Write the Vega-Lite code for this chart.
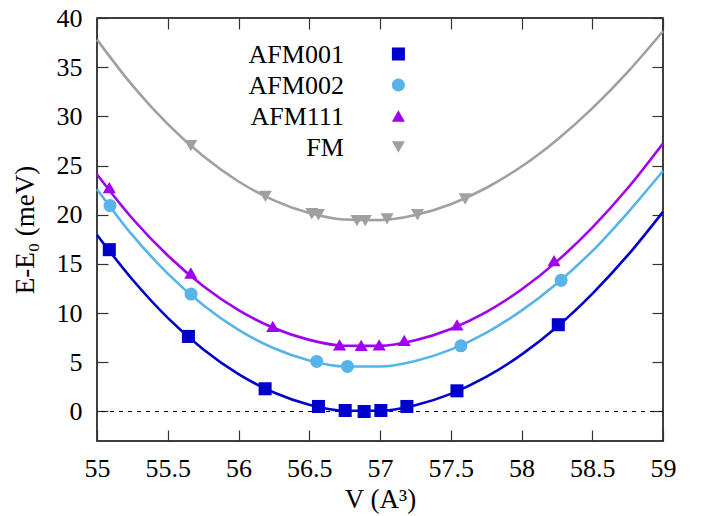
{
  "$schema": "https://vega.github.io/schema/vega-lite/v6.json",
  "width": 566,
  "height": 423,
  "autosize": {"type": "none"},
  "padding": {"left": 97, "top": 18, "right": 42, "bottom": 75},
  "background": "white",
  "config": {
    "view": {"stroke": "black", "strokeWidth": 1.5},
    "font": "Liberation Serif",
    "axis": {"labelFont": "Liberation Serif", "labelFontSize": 26, "labelColor": "black", "titleFont": "Liberation Serif", "titleFontSize": 27, "titleFontWeight": "normal", "titleColor": "black", "grid": false, "domain": false, "tickColor": "#333333", "tickWidth": 1.2}
  },
  "datasets": {
    "pts": [
      {"series": "AFM001", "V": 55.087, "E": 16.45},
      {"series": "AFM001", "V": 55.646, "E": 7.63},
      {"series": "AFM001", "V": 56.188, "E": 2.31},
      {"series": "AFM001", "V": 56.565, "E": 0.51},
      {"series": "AFM001", "V": 56.754, "E": 0.1},
      {"series": "AFM001", "V": 56.888, "E": 0.0},
      {"series": "AFM001", "V": 57.006, "E": 0.1},
      {"series": "AFM001", "V": 57.19, "E": 0.51},
      {"series": "AFM001", "V": 57.544, "E": 2.1},
      {"series": "AFM001", "V": 58.26, "E": 8.82},
      {"series": "AFM002", "V": 55.092, "E": 20.93},
      {"series": "AFM002", "V": 55.665, "E": 11.94},
      {"series": "AFM002", "V": 56.553, "E": 5.09},
      {"series": "AFM002", "V": 56.77, "E": 4.58},
      {"series": "AFM002", "V": 57.572, "E": 6.68},
      {"series": "AFM002", "V": 58.28, "E": 13.33},
      {"series": "AFM111", "V": 55.087, "E": 22.76},
      {"series": "AFM111", "V": 55.663, "E": 14.08},
      {"series": "AFM111", "V": 56.242, "E": 8.65},
      {"series": "AFM111", "V": 56.714, "E": 6.78},
      {"series": "AFM111", "V": 56.867, "E": 6.72},
      {"series": "AFM111", "V": 56.994, "E": 6.78},
      {"series": "AFM111", "V": 57.171, "E": 7.22},
      {"series": "AFM111", "V": 57.544, "E": 8.8},
      {"series": "AFM111", "V": 58.23, "E": 15.33},
      {"series": "FM", "V": 55.663, "E": 27.03},
      {"series": "FM", "V": 56.19, "E": 21.87},
      {"series": "FM", "V": 56.518, "E": 20.1},
      {"series": "FM", "V": 56.565, "E": 20.0},
      {"series": "FM", "V": 56.837, "E": 19.4},
      {"series": "FM", "V": 56.896, "E": 19.4},
      {"series": "FM", "V": 57.05, "E": 19.57},
      {"series": "FM", "V": 57.265, "E": 20.0},
      {"series": "FM", "V": 57.602, "E": 21.6}
    ],
    "fit": [
      {"series": "AFM001", "V": 55.0, "E": 17.95},
      {"series": "AFM001", "V": 55.25, "E": 13.42},
      {"series": "AFM001", "V": 55.5, "E": 9.52},
      {"series": "AFM001", "V": 55.75, "E": 6.32},
      {"series": "AFM001", "V": 56.0, "E": 3.79},
      {"series": "AFM001", "V": 56.25, "E": 1.93},
      {"series": "AFM001", "V": 56.5, "E": 0.69},
      {"series": "AFM001", "V": 56.75, "E": 0.08},
      {"series": "AFM001", "V": 57.0, "E": 0.07},
      {"series": "AFM001", "V": 57.25, "E": 0.64},
      {"series": "AFM001", "V": 57.5, "E": 1.79},
      {"series": "AFM001", "V": 57.75, "E": 3.51},
      {"series": "AFM001", "V": 58.0, "E": 5.78},
      {"series": "AFM001", "V": 58.25, "E": 8.59},
      {"series": "AFM001", "V": 58.5, "E": 11.96},
      {"series": "AFM001", "V": 58.75, "E": 15.86},
      {"series": "AFM001", "V": 59.0, "E": 20.3},
      {"series": "AFM002", "V": 55.0, "E": 22.6},
      {"series": "AFM002", "V": 55.25, "E": 17.92},
      {"series": "AFM002", "V": 55.5, "E": 14.02},
      {"series": "AFM002", "V": 55.75, "E": 10.82},
      {"series": "AFM002", "V": 56.0, "E": 8.29},
      {"series": "AFM002", "V": 56.25, "E": 6.43},
      {"series": "AFM002", "V": 56.5, "E": 5.19},
      {"series": "AFM002", "V": 56.75, "E": 4.58},
      {"series": "AFM002", "V": 57.0, "E": 4.57},
      {"series": "AFM002", "V": 57.25, "E": 5.14},
      {"series": "AFM002", "V": 57.5, "E": 6.29},
      {"series": "AFM002", "V": 57.75, "E": 8.0},
      {"series": "AFM002", "V": 58.0, "E": 10.25},
      {"series": "AFM002", "V": 58.25, "E": 13.02},
      {"series": "AFM002", "V": 58.5, "E": 16.3},
      {"series": "AFM002", "V": 58.75, "E": 20.2},
      {"series": "AFM002", "V": 59.0, "E": 24.45},
      {"series": "AFM111", "V": 55.0, "E": 24.1},
      {"series": "AFM111", "V": 55.25, "E": 19.62},
      {"series": "AFM111", "V": 55.5, "E": 15.86},
      {"series": "AFM111", "V": 55.75, "E": 12.76},
      {"series": "AFM111", "V": 56.0, "E": 10.31},
      {"series": "AFM111", "V": 56.25, "E": 8.49},
      {"series": "AFM111", "V": 56.5, "E": 7.28},
      {"series": "AFM111", "V": 56.75, "E": 6.68},
      {"series": "AFM111", "V": 57.0, "E": 6.67},
      {"series": "AFM111", "V": 57.25, "E": 7.24},
      {"series": "AFM111", "V": 57.5, "E": 8.39},
      {"series": "AFM111", "V": 57.75, "E": 10.11},
      {"series": "AFM111", "V": 58.0, "E": 12.4},
      {"series": "AFM111", "V": 58.25, "E": 15.26},
      {"series": "AFM111", "V": 58.5, "E": 18.69},
      {"series": "AFM111", "V": 58.75, "E": 22.69},
      {"series": "AFM111", "V": 59.0, "E": 27.25},
      {"series": "FM", "V": 55.0, "E": 37.8},
      {"series": "FM", "V": 55.25, "E": 33.15},
      {"series": "FM", "V": 55.5, "E": 29.21},
      {"series": "FM", "V": 55.75, "E": 25.96},
      {"series": "FM", "V": 56.0, "E": 23.38},
      {"series": "FM", "V": 56.25, "E": 21.46},
      {"series": "FM", "V": 56.5, "E": 20.17},
      {"series": "FM", "V": 56.75, "E": 19.51},
      {"series": "FM", "V": 57.0, "E": 19.45},
      {"series": "FM", "V": 57.25, "E": 19.97},
      {"series": "FM", "V": 57.5, "E": 21.07},
      {"series": "FM", "V": 57.75, "E": 22.72},
      {"series": "FM", "V": 58.0, "E": 24.9},
      {"series": "FM", "V": 58.25, "E": 27.61},
      {"series": "FM", "V": 58.5, "E": 30.81},
      {"series": "FM", "V": 58.75, "E": 34.5},
      {"series": "FM", "V": 59.0, "E": 38.66}
    ],
    "keys": [
      {"series": "AFM001"},
      {"series": "AFM002"},
      {"series": "AFM111"},
      {"series": "FM"}
    ]
  },
  "layer": [
    {
      "layer": [
        {
          "data": {"values": [{"zero": 0}]},
          "mark": {"type": "rule", "color": "black", "strokeWidth": 1, "strokeDash": [4, 5]},
          "encoding": {
            "y": {"field": "zero", "type": "quantitative", "axis": null, "scale": {"domain": [-3, 40], "nice": false, "zero": false}}
          }
        },
        {
          "data": {"name": "fit"},
          "mark": {"type": "line", "strokeWidth": 2.6, "interpolate": "monotone"},
          "encoding": {
            "x": {"field": "V", "type": "quantitative", "scale": {"domain": [55, 59], "nice": false, "zero": false},
              "axis": {"orient": "bottom", "values": [55, 55.5, 56, 56.5, 57, 57.5, 58, 58.5, 59], "format": "~g", "tickSize": -11, "labelPadding": 25, "title": "V (A³)", "titlePadding": 5, "labelFlush": false}},
            "y": {"field": "E", "type": "quantitative", "scale": {"domain": [-3, 40], "nice": false, "zero": false},
              "axis": {"orient": "left", "values": [0, 5, 10, 15, 20, 25, 30, 35, 40], "format": "~g", "tickSize": -11, "labelPadding": 26, "title": "E-E₀  (meV)", "titlePadding": 17}},
            "stroke": {"field": "series", "type": "nominal", "legend": null,
              "scale": {"domain": ["AFM001", "AFM002", "AFM111", "FM"], "range": ["#0000cc", "#56b4e9", "#a000f0", "#a0a0a0"]}},
            "detail": {"field": "series", "type": "nominal"}
          }
        },
        {
          "data": {"name": "pts"},
          "mark": {"type": "point", "filled": true, "opacity": 1, "size": 170},
          "encoding": {
            "x": {"field": "V", "type": "quantitative",
              "axis": {"orient": "top", "values": [55, 55.5, 56, 56.5, 57, 57.5, 58, 58.5, 59], "tickSize": -11, "labels": false, "title": null}},
            "y": {"field": "E", "type": "quantitative",
              "axis": {"orient": "right", "values": [0, 5, 10, 15, 20, 25, 30, 35, 40], "tickSize": -11, "labels": false, "title": null}},
            "color": {"field": "series", "type": "nominal", "legend": null,
              "scale": {"domain": ["AFM001", "AFM002", "AFM111", "FM"], "range": ["#0000cc", "#56b4e9", "#a000f0", "#a0a0a0"]}},
            "shape": {"field": "series", "type": "nominal", "legend": null,
              "scale": {"domain": ["AFM001", "AFM002", "AFM111", "FM"], "range": ["square", "circle", "triangle-up", "triangle-down"]}}
          }
        }
      ],
      "resolve": {"axis": {"x": "independent", "y": "independent"}}
    },
    {
      "data": {"name": "keys"},
      "encoding": {
        "y": {"field": "series", "type": "nominal", "axis": null,
          "scale": {"type": "point", "domain": ["AFM001", "AFM002", "AFM111", "FM"], "range": [36, 129], "padding": 0}}
      },
      "layer": [
        {
          "mark": {"type": "point", "filled": true, "opacity": 1, "size": 170},
          "encoding": {
            "x": {"datum": 57.13, "type": "quantitative", "axis": null},
            "color": {"field": "series", "type": "nominal", "legend": null},
            "shape": {"field": "series", "type": "nominal", "legend": null}
          }
        },
        {
          "mark": {"type": "text", "align": "right", "baseline": "middle", "font": "Liberation Serif", "fontSize": 26, "color": "black", "dy": 1},
          "encoding": {
            "x": {"datum": 56.745, "type": "quantitative", "axis": null},
            "text": {"field": "series", "type": "nominal"}
          }
        }
      ]
    }
  ],
  "resolve": {"scale": {"y": "independent"}, "axis": {"x": "independent", "y": "independent"}}
}
